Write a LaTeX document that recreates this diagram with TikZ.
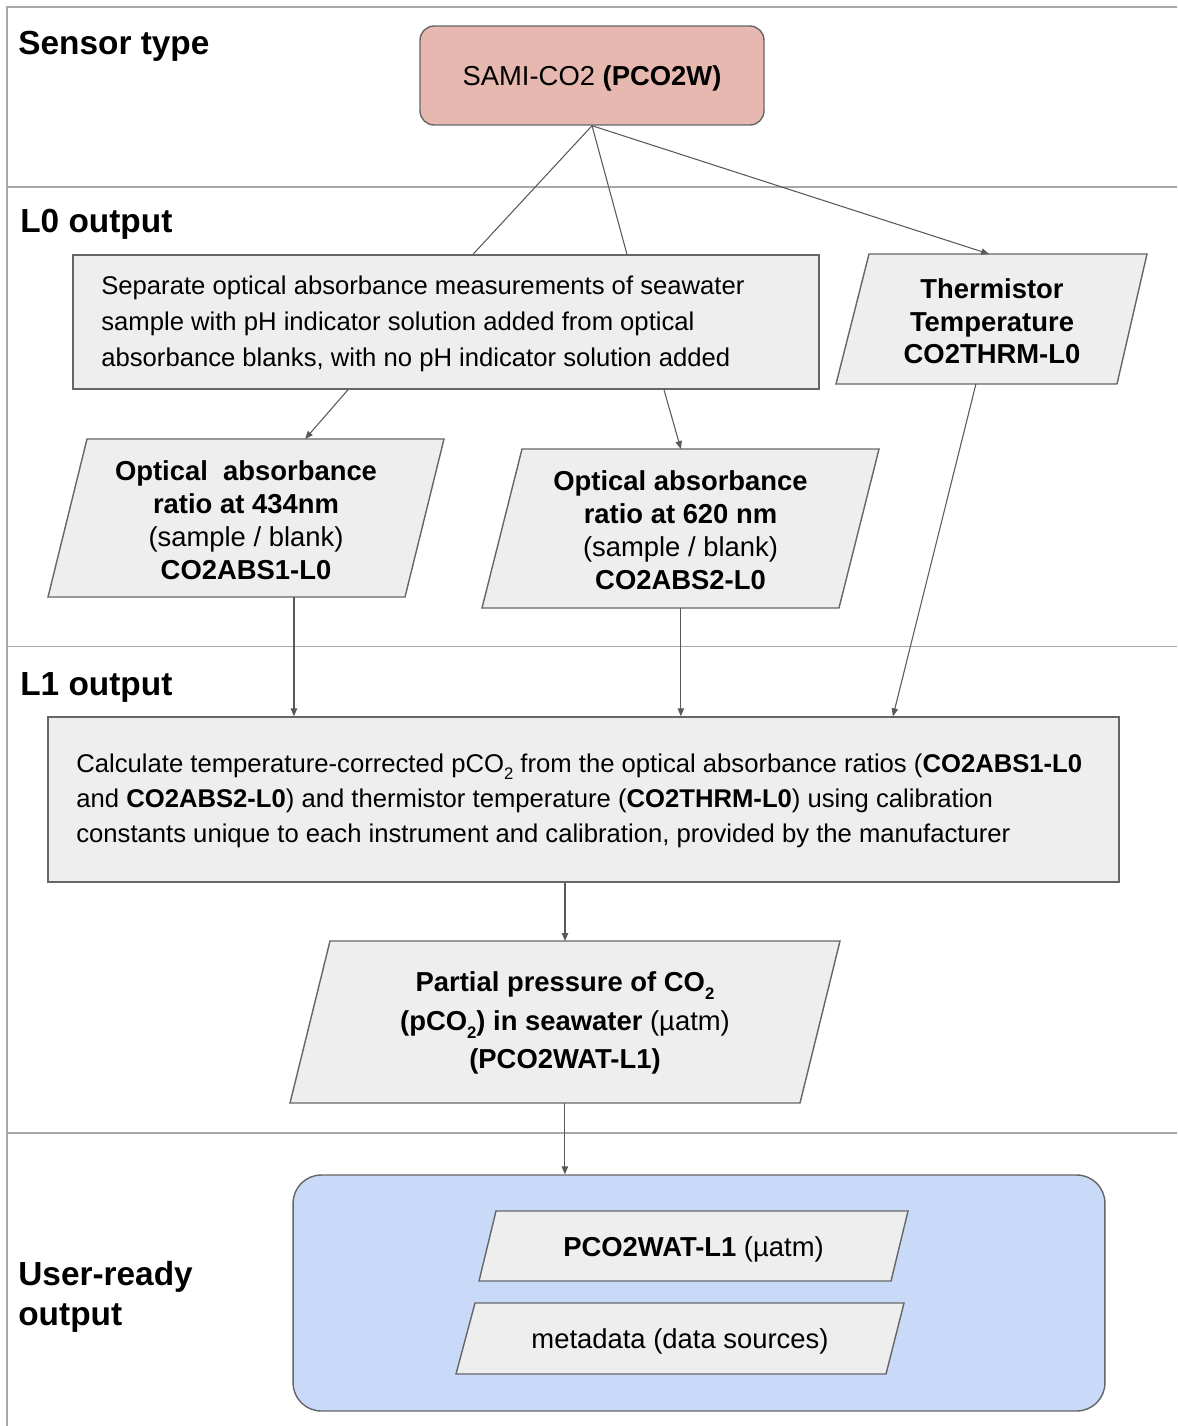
\documentclass[tikz,border=0pt]{standalone}
\usepackage{fontspec}
\setmainfont{Liberation Sans}
\usetikzlibrary{arrows.meta,calc}
\definecolor{framegray}{HTML}{A8A8A8}
\definecolor{bordergray}{HTML}{666666}
\definecolor{boxgray}{HTML}{EEEEEE}
\definecolor{samired}{HTML}{E6B8AF}
\definecolor{userblue}{HTML}{C9DAF8}
\definecolor{conngray}{HTML}{595959}
\newcommand\lowtwo{\raisebox{-0.55ex}{\fontsize{9.5}{9.5}\selectfont 2}}
\begin{document}
\begin{tikzpicture}[x=0.02cm,y=-0.02cm,
  frameline/.style={draw=framegray,line width=0.7pt},
  shapebox/.style={draw=bordergray,fill=boxgray,line width=0.8pt},
  conn/.style={draw=conngray,line width=0.6pt,-{Triangle[length=4.5pt,width=3.6pt]}},
  plainconn/.style={draw=conngray,line width=0.6pt},
  lbl/.style={font=\fontsize{19}{22.7}\selectfont\bfseries,anchor=west,align=left,inner sep=0pt},
  ptxt/.style={font=\fontsize{15.6}{18.7}\selectfont,align=center,inner sep=0pt},
  pbold/.style={font=\fontsize{15.6}{18.4}\selectfont\bfseries,align=center,inner sep=0pt},
  ltxt/.style={font=\fontsize{14.6}{20.3}\selectfont,align=left,anchor=west,inner sep=0pt},
]
\useasboundingbox (0,0) rectangle (1177,1426);
\fill[white] (0,0) rectangle (1177,1426);

% frame / lanes
\draw[frameline] (1177,7) -- (7,7) -- (7,1426);
\draw[frameline] (7,187) -- (1177,187);
\draw[frameline] (7,646.5) -- (1177,646.5);
\draw[frameline] (7,1133) -- (1177,1133);

% lane labels
\node[lbl] (lane0) at (18,46) {Sensor type};
\node[lbl] (lane1) at (20,224) {L0 output};
\node[lbl] (lane2) at (20,687) {L1 output};
\node[lbl] (lane3) at (18,1297) {User-ready\\output};

% sensor
\node[draw=bordergray,fill=samired,rounded corners=8pt,line width=0.8pt,
      minimum width=6.88cm,minimum height=1.98cm,inner sep=0pt] (sami) at (592,75.5) {};
\node[ptxt] (samitxt) at (592,78.5) {SAMI-CO2 \textbf{(PCO2W)}};

% L0 separate box
\node[shapebox,minimum width=14.92cm,minimum height=2.68cm,inner sep=0pt] (sep) at (446,322) {};
\node[ltxt] (septxt) at (101,324) {Separate optical absorbance measurements of seawater\\sample with pH indicator solution added from optical\\absorbance blanks, with no pH indicator solution added};

% thermistor
\coordinate (thTL) at (869,254);
\coordinate (thTR) at (1147,254);
\coordinate (thBR) at (1117,384);
\coordinate (thBL) at (836,384);
\draw[shapebox] (thTL) -- (thTR) -- (thBR) -- (thBL) -- cycle;
\node[pbold] (therm) at (992,321.5) {Thermistor\\Temperature\\CO2THRM-L0};

% absorbance 434
\coordinate (p1TL) at (87,439);
\coordinate (p1TR) at (444,439);
\coordinate (p1BR) at (405,597);
\coordinate (p1BL) at (48,597);
\draw[shapebox] (p1TL) -- (p1TR) -- (p1BR) -- (p1BL) -- cycle;
\node[ptxt] (abs1) at (246,520) {\textbf{Optical\ \ absorbance}\\\textbf{ratio at 434nm}\\(sample / blank)\\\textbf{CO2ABS1-L0}};

% absorbance 620
\coordinate (p2TL) at (522,449);
\coordinate (p2TR) at (879,449);
\coordinate (p2BR) at (839,608);
\coordinate (p2BL) at (482,608);
\draw[shapebox] (p2TL) -- (p2TR) -- (p2BR) -- (p2BL) -- cycle;
\node[ptxt] (abs2) at (680.5,530) {\textbf{Optical absorbance}\\\textbf{ratio at 620 nm}\\(sample / blank)\\\textbf{CO2ABS2-L0}};

% L1 box
\node[shapebox,minimum width=21.42cm,minimum height=3.3cm,inner sep=0pt] (l1) at (583.5,799.5) {};
\node[ltxt,font=\fontsize{14.6}{20.1}\selectfont] (l1txt) at (76,801) {Calculate temperature-corrected pCO\lowtwo{} from the optical absorbance ratios (\textbf{CO2ABS1-L0}\\and \textbf{CO2ABS2-L0}) and thermistor temperature (\textbf{CO2THRM-L0}) using calibration\\constants unique to each instrument and calibration, provided by the manufacturer};

% pCO2 result
\coordinate (p3TL) at (330,941);
\coordinate (p3TR) at (840,941);
\coordinate (p3BR) at (800,1103);
\coordinate (p3BL) at (290,1103);
\draw[shapebox] (p3TL) -- (p3TR) -- (p3BR) -- (p3BL) -- cycle;
\node[ptxt,font=\fontsize{15.6}{21.8}\selectfont] (pco2) at (565,1023) {\textbf{Partial pressure of CO\lowtwo}\\\textbf{(pCO\lowtwo) in seawater} (µatm)\\\textbf{(PCO2WAT-L1)}};

% user-ready container
\node[draw=bordergray,fill=userblue,rounded corners=16pt,line width=0.8pt,
      minimum width=16.24cm,minimum height=4.72cm,inner sep=0pt] (user) at (699,1293) {};
\coordinate (uaTL) at (496,1211);
\coordinate (uaTR) at (908,1211);
\coordinate (uaBR) at (891,1281);
\coordinate (uaBL) at (479,1281);
\draw[shapebox] (uaTL) -- (uaTR) -- (uaBR) -- (uaBL) -- cycle;
\node[ptxt] (ua) at (693.5,1249) {\textbf{PCO2WAT-L1} (µatm)};
\coordinate (ubTL) at (475,1303);
\coordinate (ubTR) at (904,1303);
\coordinate (ubBR) at (886,1374);
\coordinate (ubBL) at (456,1374);
\draw[shapebox] (ubTL) -- (ubTR) -- (ubBR) -- (ubBL) -- cycle;
\node[ptxt] (ub) at (680,1341) {metadata (data sources)};

% connector end points on shape borders
\coordinate (thIn) at ($(thTL)!0.432!(thTR)$);
\coordinate (thOut) at ($(thBL)!0.498!(thBR)$);
\coordinate (p1In) at ($(p1TL)!0.611!(p1TR)$);
\coordinate (p1Out) at ($(p1BL)!0.689!(p1BR)$);
\coordinate (p2In) at ($(p2TL)!0.445!(p2TR)$);
\coordinate (p2Out) at ($(p2BL)!0.557!(p2BR)$);
\coordinate (p3Out) at ($(p3BL)!0.539!(p3BR)$);

% connectors
\draw[plainconn] (sami.south) -- ([xshift=0.54cm]sep.north);
\draw[plainconn] (sami.south) -- ([xshift=3.62cm]sep.north);
\draw[conn] (sami.south) -- (thIn);
\draw[conn] ([xshift=-1.96cm]sep.south) -- (p1In);
\draw[conn] ([xshift=4.36cm]sep.south) -- (p2In);
\draw[conn] (p1Out) -- (p1Out |- l1.north);
\draw[conn] (p2Out) -- (p2Out |- l1.north);
\draw[conn] (thOut) -- ([xshift=6.19cm]l1.north);
\draw[conn] ([xshift=-0.37cm]l1.south) coordinate (l1Out) -- (l1Out |- p3TL);
\draw[conn] (p3Out) -- (p3Out |- user.north);
\end{tikzpicture}
\end{document}
